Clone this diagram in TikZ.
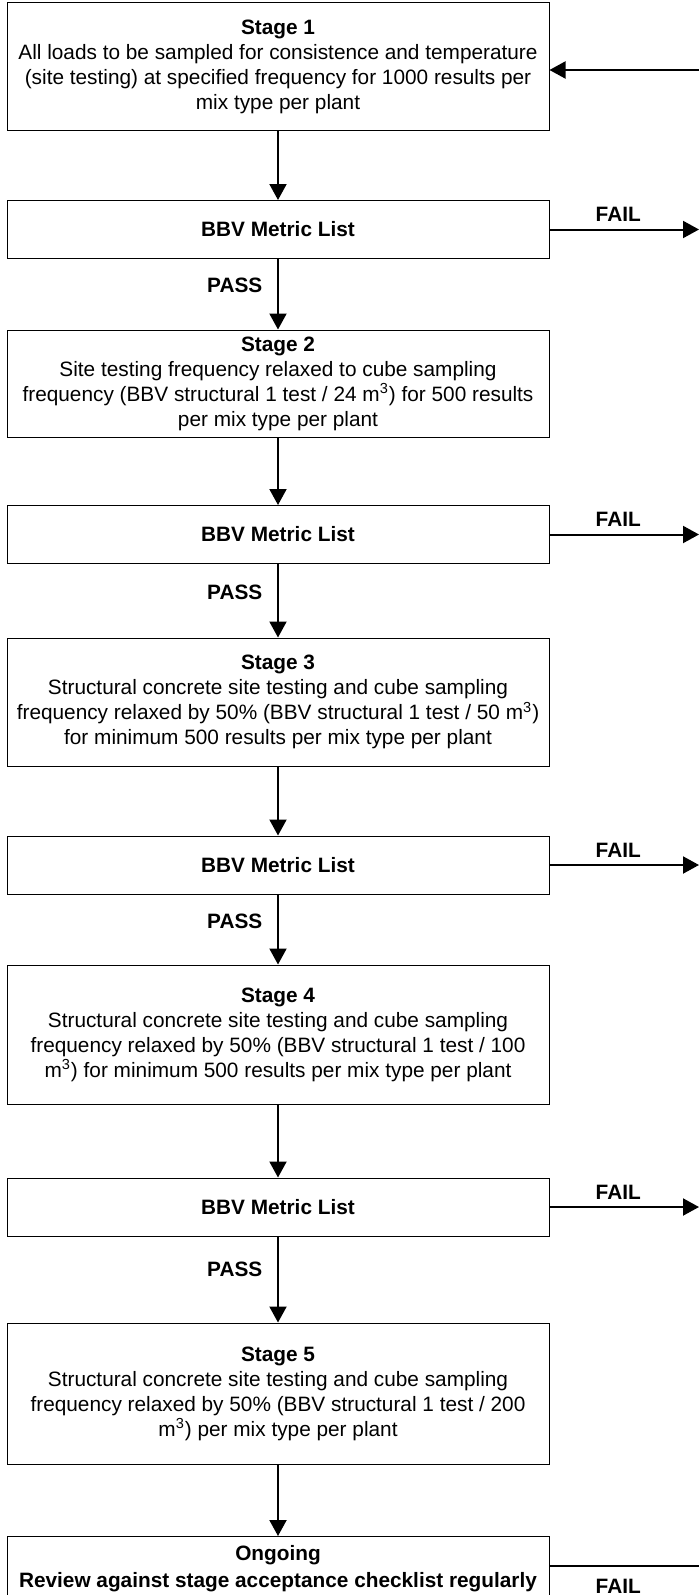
\documentclass[tikz,border=0pt]{standalone}
\usepackage{fontspec}
\setmainfont{Liberation Sans}
\usetikzlibrary{arrows.meta, positioning}

\begin{document}
\begin{tikzpicture}[
  x=0.5pt, y=-0.5pt,
  every node/.style={font=\fontsize{10.4}{12.5}\selectfont},
  stagebox/.style={draw, line width=0.5pt, minimum width=271pt, align=center,
                   inner sep=0pt, fill=white},
  metric/.style={stagebox, minimum height=29pt,
                 font=\fontsize{10.4}{12.5}\selectfont\bfseries},
  lbl/.style={font=\fontsize{10.4}{12.5}\selectfont\bfseries},
  arr/.style={-{Triangle[length=8pt, width=8.5pt]}, line width=1pt},
]
\useasboundingbox (0,0) rectangle (699,1595);
\clip (0,0) rectangle (699,1595);

% Stage 1
\node[stagebox, minimum height=64pt] (st1) at (278,67)
  {{\bfseries Stage 1}\\All loads to be sampled for consistence and temperature\\(site testing) at specified frequency for 1000 results per\\mix type per plant};
\coordinate (back) at (699,70);
\draw[arr] (back) -- (st1.east |- back);

\node[metric] (bbv1) at (278,229.5) {BBV Metric List};
\coordinate (fail1) at (699,229.5);

% Stage 2
\node[stagebox, minimum height=53.5pt] (st2) at (278,383.5)
  {{\bfseries Stage 2}\\Site testing frequency relaxed to cube sampling\\frequency (BBV structural 1 test / 24 m\textsuperscript{3}) for 500 results\\per mix type per plant};

\node[metric] (bbv2) at (278,534.5) {BBV Metric List};
\coordinate (fail2) at (699,534.5);

% Stage 3
\node[stagebox, minimum height=64pt] (st3) at (278,702)
  {{\bfseries Stage 3}\\Structural concrete site testing and cube sampling\\frequency relaxed by 50\% (BBV structural 1 test / 50 m\textsuperscript{3})\\for minimum 500 results per mix type per plant};

\node[metric] (bbv3) at (278,865) {BBV Metric List};
\coordinate (fail3) at (699,865);

% Stage 4
\node[stagebox, minimum height=69.5pt] (st4) at (278,1034.5)
  {{\bfseries Stage 4}\\Structural concrete site testing and cube sampling\\frequency relaxed by 50\% (BBV structural 1 test / 100\\m\textsuperscript{3}) for minimum 500 results per mix type per plant};

\node[metric] (bbv4) at (278,1207) {BBV Metric List};
\coordinate (fail4) at (699,1207);

% Stage 5
\node[stagebox, minimum height=70.5pt] (st5) at (278,1393.5)
  {{\bfseries Stage 5}\\Structural concrete site testing and cube sampling\\frequency relaxed by 50\% (BBV structural 1 test / 200\\m\textsuperscript{3}) per mix type per plant};

% Ongoing
\node[stagebox, anchor=north, inner ysep=4.5pt, text depth=25pt,
      font=\fontsize{10.4}{13.5}\selectfont\bfseries] (ong) at (278,1536)
  {Ongoing\\Review against stage acceptance checklist regularly};
\coordinate (fail5) at (699,1566);

% flow down
\draw[arr] (st1) -- (bbv1);
\draw[arr] (bbv1) -- node[lbl, pos=0.38, left=4pt] {PASS} (st2);
\draw[arr] (st2) -- (bbv2);
\draw[arr] (bbv2) -- node[lbl, pos=0.38, left=4pt] {PASS} (st3);
\draw[arr] (st3) -- (bbv3);
\draw[arr] (bbv3) -- node[lbl, pos=0.38, left=4pt] {PASS} (st4);
\draw[arr] (st4) -- (bbv4);
\draw[arr] (bbv4) -- node[lbl, pos=0.38, left=4pt] {PASS} (st5);
\draw[arr] (st5) -- (ong);

% fail exits
\draw[arr] (bbv1.east) -- node[lbl, pos=0.46, above] {FAIL} (fail1);
\draw[arr] (bbv2.east) -- node[lbl, pos=0.46, above] {FAIL} (fail2);
\draw[arr] (bbv3.east) -- node[lbl, pos=0.46, above] {FAIL} (fail3);
\draw[arr] (bbv4.east) -- node[lbl, pos=0.46, above] {FAIL} (fail4);
\draw[line width=1pt] (fail5 -| ong.east) -- node[lbl, pos=0.46, below=3pt] {FAIL} (fail5);
\end{tikzpicture}
\end{document}
